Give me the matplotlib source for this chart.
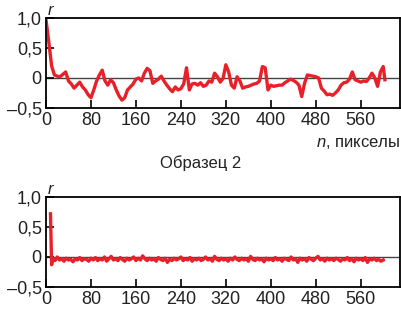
import matplotlib
matplotlib.use("Agg")
import matplotlib.pyplot as plt
import matplotlib.ticker as ticker

plt.rcParams['font.family'] = ['Liberation Sans', 'DejaVu Sans']
plt.rcParams['mathtext.fontset'] = 'custom'
plt.rcParams['mathtext.it'] = 'Liberation Sans:italic'
plt.rcParams['mathtext.rm'] = 'Liberation Sans'

# образец 1 (верхний график)
x1 = [0, 5, 10, 15, 20, 25, 30, 35, 40, 45, 50, 55, 60, 65, 70, 75, 80, 85, 90, 95,
      100, 105, 110, 115, 120, 125, 130, 135, 140, 145, 150, 155, 160, 165, 170, 175, 180, 185, 190, 195,
      200, 205, 210, 215, 220, 225, 230, 235, 240, 245, 250, 255, 260, 265, 270, 275, 280, 285, 290, 295,
      300, 305, 310, 315, 320, 325, 330, 335, 340, 345, 350, 355, 360, 365, 370, 375, 380, 385, 390, 395,
      400, 405, 410, 415, 420, 425, 430, 435, 440, 445, 450, 455, 460, 465, 470, 475, 480, 485, 490, 495,
      500, 505, 510, 515, 520, 525, 530, 535, 540, 545, 550, 555, 560, 565, 570, 575, 580, 585, 590, 595,
      600, 603]
r1 = [0.97, 0.6, 0.2, 0.05, 0.03, 0.02, 0.06, 0.1, -0.05, -0.1, -0.17, -0.12, -0.07, -0.15, -0.2, -0.28, -0.33, -0.2, -0.05, 0.05,
      0.13, -0.05, -0.12, -0.03, -0.08, -0.2, -0.3, -0.37, -0.33, -0.2, -0.15, -0.1, -0.02, 0.0, -0.05, 0.08, 0.16, 0.12, -0.09, -0.05,
      -0.02, 0.03, -0.05, -0.12, -0.18, -0.23, -0.15, -0.2, -0.18, -0.1, 0.17, -0.2, -0.1, -0.09, -0.12, -0.08, -0.14, -0.12, -0.05, -0.07,
      0.08, 0.02, -0.07, -0.01, 0.22, 0.1, -0.12, -0.17, 0.02, -0.05, -0.17, -0.15, -0.14, -0.12, -0.1, -0.09, -0.05, 0.19, 0.17, -0.2,
      -0.12, -0.14, -0.13, -0.12, -0.12, -0.08, -0.05, -0.02, -0.04, -0.07, -0.12, -0.31, -0.09, 0.05, 0.04, 0.03, 0.02, 0.0, -0.17, -0.22,
      -0.28, -0.27, -0.29, -0.25, -0.2, -0.12, -0.08, -0.07, -0.02, 0.1, -0.03, -0.05, -0.07, -0.05, -0.06, 0.0, 0.08, 0.0, -0.14, 0.1,
      0.19, -0.03]

# образец 2 (нижний график)
x2 = [8, 10, 12, 16, 20, 24, 28, 32, 36, 40, 44, 48, 52, 56, 60, 64, 68, 72, 76, 80,
      84, 88, 92, 96, 100, 104, 108, 112, 116, 120, 124, 128, 132, 136, 140, 144, 148, 152, 156, 160,
      164, 168, 172, 176, 180, 184, 188, 192, 196, 200, 204, 208, 212, 216, 220, 224, 228, 232, 236, 240,
      244, 248, 252, 256, 260, 264, 268, 272, 276, 280, 284, 288, 292, 296, 300, 304, 308, 312, 316, 320,
      324, 328, 332, 336, 340, 344, 348, 352, 356, 360, 364, 368, 372, 376, 380, 384, 388, 392, 396, 400,
      404, 408, 412, 416, 420, 424, 428, 432, 436, 440, 444, 448, 452, 456, 460, 464, 468, 472, 476, 480,
      484, 488, 492, 496, 500, 504, 508, 512, 516, 520, 524, 528, 532, 536, 540, 544, 548, 552, 556, 560,
      564, 568, 572, 576, 580, 584, 588, 592, 596, 600]
r2 = [0.72, -0.13, -0.02, -0.06, 0.0, -0.05, -0.03, -0.07, -0.02, -0.05, -0.04, -0.08, -0.03, -0.05, -0.01, -0.06, -0.03, -0.04, -0.07, -0.02,
      -0.05, -0.01, -0.06, -0.03, -0.05, 0.0, -0.07, -0.03, 0.01, -0.05, -0.03, -0.06, -0.01, -0.04, -0.07, -0.02, -0.05, -0.03, 0.0, -0.06,
      -0.02, -0.05, 0.02, -0.03, -0.06, -0.02, -0.05, -0.03, -0.07, -0.01, -0.04, -0.06, -0.02, -0.09, -0.04, -0.06, -0.02, -0.05, -0.03, 0.0,
      -0.06, -0.03, -0.05, -0.01, -0.07, -0.03, -0.05, -0.02, -0.06, -0.04, 0.0, -0.05, -0.03, -0.07, 0.01, -0.04, -0.06, -0.02, -0.05, -0.03,
      -0.07, -0.02, -0.05, 0.0, -0.04, -0.06, -0.02, -0.05, -0.03, -0.07, 0.01, -0.04, -0.06, -0.02, -0.05, -0.03, -0.08, -0.02, -0.05, -0.03,
      -0.06, -0.01, -0.05, -0.03, -0.07, -0.02, -0.04, -0.06, 0.0, -0.05, -0.03, -0.09, -0.02, -0.05, -0.03, -0.07, -0.01, -0.04, -0.06, -0.02,
      0.01, -0.05, -0.03, -0.07, -0.02, -0.05, -0.03, -0.06, -0.02, -0.04, -0.07, -0.03, -0.05, -0.01, -0.06, -0.03, -0.08, -0.02, -0.05, -0.03,
      -0.06, -0.01, -0.09, -0.03, -0.05, -0.02, -0.06, -0.04, -0.07, -0.05]

xticks = [0, 80, 160, 240, 320, 400, 480, 560]
yticks = [-0.5, 0, 0.5, 1.0]
ylabels = ['\u20130,5', '0', '0,5', '1,0']

RED = '#e8202a'
TXT = '#222222'


def setup_axes(ax):
    ax.set_xlim(0, 630)
    ax.set_ylim(-0.5, 1.0)
    ax.axhline(0, color='#444444', lw=1.0, zorder=1)
    ax.xaxis.set_major_locator(ticker.FixedLocator(xticks))
    ax.set_yticks(yticks)
    ax.set_yticklabels(ylabels)
    ax.tick_params(direction='in', length=6, width=1.2, labelsize=13, pad=3,
                   labelcolor=TXT)
    for s in ax.spines.values():
        s.set_linewidth(1.3)


fig = plt.figure(figsize=(4.01, 3.11), dpi=100)
ax1 = fig.add_axes([0.1147, 0.653, 0.883, 0.289])
ax2 = fig.add_axes([0.1147, 0.0772, 0.883, 0.2894])

setup_axes(ax1)
ax1.plot(x1, r1, color=RED, lw=2.4, zorder=2)
setup_axes(ax2)
ax2.plot(x2, r2, color=RED, lw=2.4, zorder=2)

fig.text(0.118, 0.99, 'r', style='italic', fontsize=12, va='top', ha='left', color=TXT)
fig.text(0.118, 0.415, 'r', style='italic', fontsize=12, va='top', ha='left', color=TXT)
fig.text(0.998, 0.538, '$\\it{n}$, пикселы', fontsize=12, va='center', ha='right', color=TXT)
fig.text(0.5, 0.477, 'Образец 2', fontsize=12, va='center', ha='center', color=TXT)

fig.savefig('out.png', dpi=100)
